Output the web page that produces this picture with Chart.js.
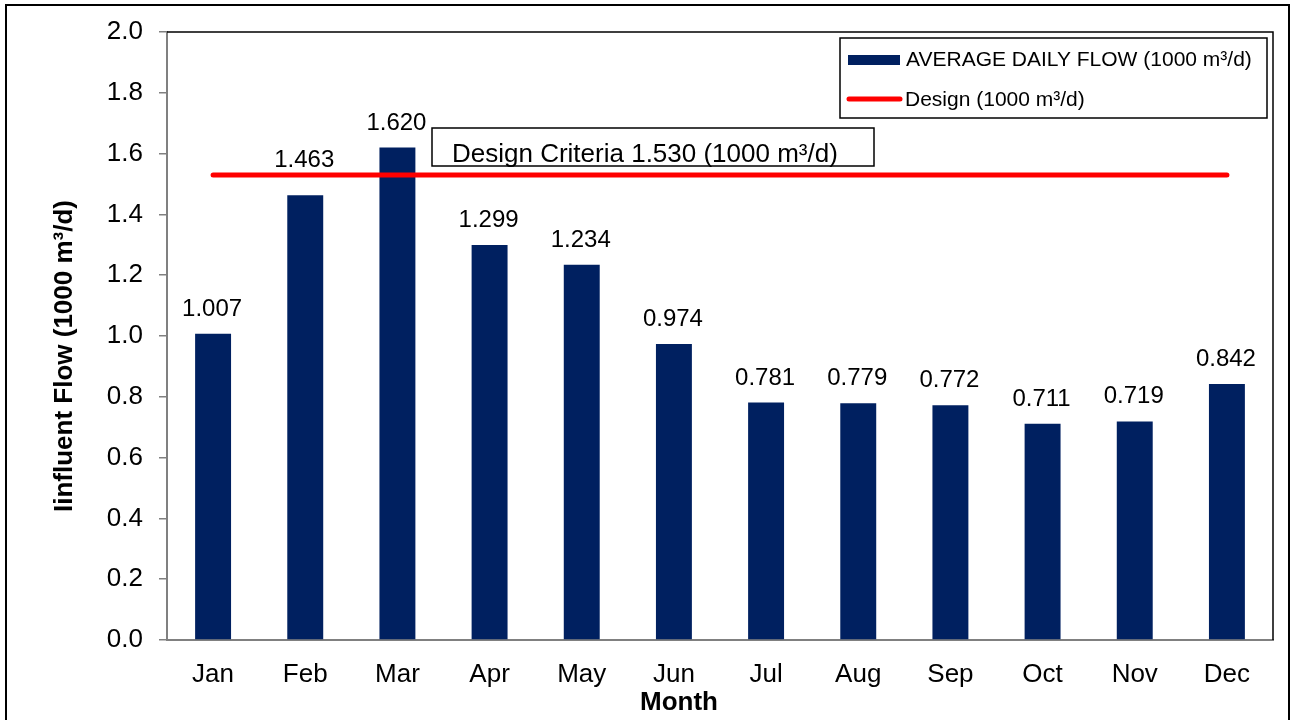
<!DOCTYPE html>
<html>
<head>
<meta charset="utf-8">
<script src="https://cdn.jsdelivr.net/npm/chart.js@4.4.1/dist/chart.umd.min.js"></script>
<style>
  body { margin: 0; background: #fff; }
  canvas { display: block; }
</style>
</head>
<body>
<canvas id="flowChart" width="1293" height="720"></canvas>
<script>
const months = ["Jan", "Feb", "Mar", "Apr", "May", "Jun", "Jul", "Aug", "Sep", "Oct", "Nov", "Dec"];
const avgFlow = [1.007, 1.463, 1.620, 1.299, 1.234, 0.974, 0.781, 0.779, 0.772, 0.711, 0.719, 0.842];
const designFlow = [1.530, 1.530, 1.530, 1.530, 1.530, 1.530, 1.530, 1.530, 1.530, 1.530, 1.530, 1.530];
const designCriteria = 1.530;
const yTicks = [0, 0.2, 0.4, 0.6, 0.8, 1.0, 1.2, 1.4, 1.6, 1.8, 2.0];

const FONT = "'Liberation Sans', Arial, sans-serif";
Chart.defaults.font.family = FONT;
Chart.defaults.color = "#000";

const ctx = document.getElementById("flowChart").getContext("2d");

// everything chart.js doesn't draw the way excel did
const extras = {
  id: "extras",
  beforeDraw(chart) {
    const c = chart.ctx;
    c.save();
    c.fillStyle = "#fff";
    c.fillRect(0, 0, chart.width, chart.height);
    c.restore();
  },
  afterDatasetsDraw(chart) {
    const c = chart.ctx;
    const area = chart.chartArea;
    const lineY = chart.scales.y.getPixelForValue(designCriteria);
    c.save();

    // value labels over bars, pushed above the design line if they'd sit on it
    const barMeta = chart.getDatasetMeta(1);
    c.font = "24px " + FONT;
    c.fillStyle = "#000";
    c.textAlign = "center";
    c.textBaseline = "alphabetic";
    barMeta.data.forEach((bar, i) => {
      let base = bar.y - 18;
      if (base > lineY - 8 && base - 18 < lineY + 3) base = lineY - 8;
      c.fillText(avgFlow[i].toFixed(3), bar.x - 1, base);
    });

    // top + right plot border
    c.strokeStyle = "#000";
    c.lineWidth = 1.5;
    c.beginPath();
    c.moveTo(area.left, area.top);
    c.lineTo(area.right, area.top);
    c.lineTo(area.right, area.bottom);
    c.stroke();

    // outer frame
    c.lineWidth = 2;
    c.beginPath();
    c.moveTo(6, 724);
    c.lineTo(6, 5);
    c.lineTo(1289, 5);
    c.lineTo(1289, 724);
    c.stroke();

    // design criteria box
    c.lineWidth = 1.5;
    c.fillStyle = "#fff";
    c.fillRect(432, 128, 442, 38);
    c.strokeRect(432, 128, 442, 38);
    c.fillStyle = "#000";
    c.font = "26px " + FONT;
    c.textAlign = "left";
    c.fillText("Design Criteria " + designCriteria.toFixed(3) + " (1000 m³/d)", 452, 162);

    // legend
    const ds = chart.data.datasets;
    c.fillStyle = "#fff";
    c.fillRect(840, 38, 427, 80);
    c.strokeRect(840, 38, 427, 80);
    c.fillStyle = "#002060";
    c.fillRect(848, 55, 52, 10);
    c.strokeStyle = "#ff0000";
    c.lineWidth = 5;
    c.lineCap = "round";
    c.beginPath();
    c.moveTo(849, 99);
    c.lineTo(900, 99);
    c.stroke();
    c.fillStyle = "#000";
    c.font = "21px " + FONT;
    c.fillText(ds[1].label, 906, 66);
    c.fillText(ds[0].label, 905, 106);

    // axis titles
    c.font = "bold 26px " + FONT;
    c.textAlign = "center";
    c.textBaseline = "middle";
    c.fillText("Month", 679, 703);
    c.translate(65, 356);
    c.rotate(-Math.PI / 2);
    c.fillText("Iinfluent Flow (1000 m³/d)", 0, 0);

    c.restore();
  }
};

const flowChart = new Chart(ctx, {
  data: {
    labels: months,
    datasets: [
      {
        type: "line",
        label: "Design (1000 m³/d)",
        data: designFlow,
        borderColor: "#ff0000",
        borderWidth: 5,
        borderCapStyle: "round",
        pointRadius: 0,
        fill: false,
        order: 0
      },
      {
        type: "bar",
        label: "AVERAGE DAILY FLOW (1000 m³/d)",
        data: avgFlow,
        backgroundColor: "#002060",
        barPercentage: 0.39,
        categoryPercentage: 1,
        order: 1
      }
    ]
  },
  options: {
    responsive: false,
    animation: false,
    layout: { padding: { left: 0, top: 32, right: 20, bottom: 0 } },
    plugins: {
      legend: { display: false },
      tooltip: { enabled: false }
    },
    scales: {
      x: {
        offset: true,
        grid: { display: false, drawTicks: false },
        border: { color: "#808080", width: 2 },
        ticks: { font: { size: 26 }, padding: 19, color: "#000" },
        afterFit: (s) => { s.height = 80; }
      },
      y: {
        min: 0,
        max: 2,
        afterBuildTicks: (s) => { s.ticks = yTicks.map((v) => ({ value: v })); },
        grid: { drawOnChartArea: false, tickLength: 8, color: "#808080", lineWidth: 1.5 },
        border: { color: "#808080", width: 2 },
        ticks: {
          font: { size: 26 },
          padding: 16,
          color: "#000",
          callback: (v) => Number(v).toFixed(1)
        },
        afterFit: (s) => { s.width = 167; }
      }
    }
  },
  plugins: [extras]
});
</script>
</body>
</html>
